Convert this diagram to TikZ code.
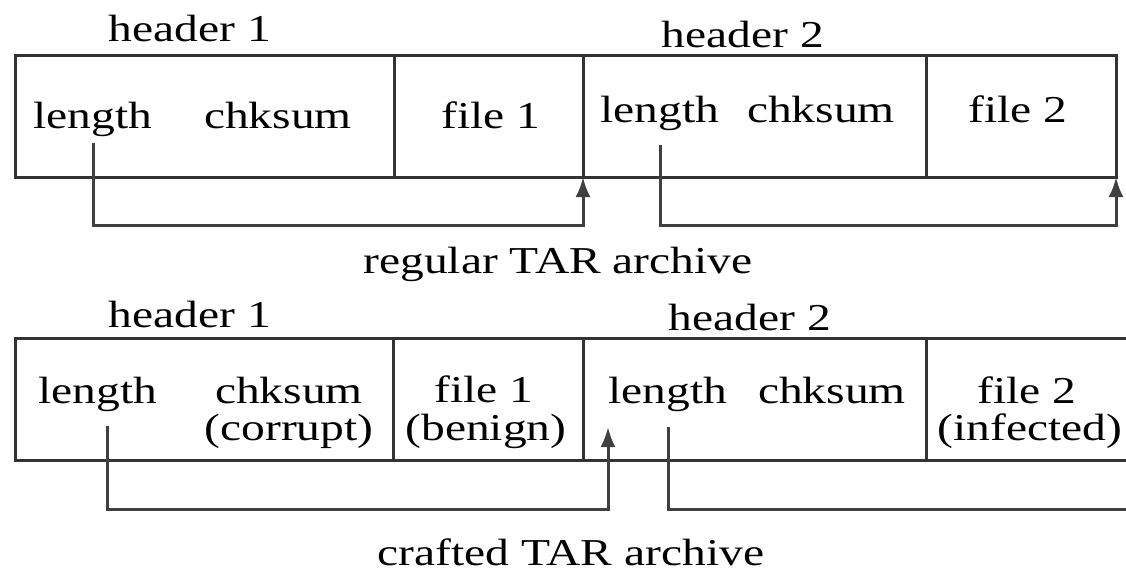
\documentclass[tikz,border=0pt]{standalone}
\usepackage{fontspec}
\setmainfont[FakeStretch=1.25]{Liberation Serif}
\usepackage{tikz}
\usetikzlibrary{calc}
\usetikzlibrary{arrows.meta}

\tikzset{
  cell/.style={line width=3pt, draw=black!80},
  lbl/.style={font=\fontsize{38}{42}\selectfont, inner sep=0pt, anchor=base},
  link/.style={line width=3pt, draw=black!75},
  linkarrow/.style={link, -{Latex[length=20pt,width=15pt]}}
}

\begin{document}
\begin{tikzpicture}[x=1pt, y=-1pt]
  \useasboundingbox (0,0) rectangle (1126,581);

  % Row heights
  \newcommand\topA{55}        % = regular top
  \newcommand\botA{177}       % = regular bottom
  \newcommand\topB{338}       % = crafted top
  \newcommand\botB{460}       % = crafted bottom

  % regular archive: cells
  \draw[cell] (15,\topA) rectangle (1116,\botA);
  \foreach \x in {394,583,926} {
    \draw[cell] (\x,\topA) -- (\x,\botA);
  }

  % crafted archive: cells (open to the right)
  \draw[cell] (1126,\topB) -- (15,\topB) -- (15,\botB) -- (1126,\botB);
  \foreach \x in {393,583,926} {
    \draw[cell] (\x,\topB) -- (\x,\botB);
  }

  % regular archive: labels
  \node[lbl] (hdrA1) at (190,41)  {header 1};
  \node[lbl] (hdrA2) at (743,47)  {header 2};
  \node[lbl] (lenA1) at (93,128)  {length};
  \node[lbl] (ckA1)  at (278,128) {chksum};
  \node[lbl] (fileA1) at (491,128) {file 1};
  \node[lbl] (lenA2) at (660,122) {length};
  \node[lbl] (ckA2)  at (821,122) {chksum};
  \node[lbl] (fileA2) at (1018,122) {file 2};
  \node[lbl] (nameA) at (558,273) {regular TAR archive};

  % crafted archive: labels
  \node[lbl] (hdrB1) at (190,327)  {header 1};
  \node[lbl] (hdrB2) at (750,330)  {header 2};
  \node[lbl] (lenB1) at (98,403)   {length};
  \node[lbl] (ckB1)  at (289,403)  {chksum};
  \node[lbl] (ckB1n) at (289,440)  {(corrupt)};
  \node[lbl] (fileB1) at (484,402) {file 1};
  \node[lbl] (fileB1n) at (486,440) {(benign)};
  \node[lbl] (lenB2) at (668,403)  {length};
  \node[lbl] (ckB2)  at (832,403)  {chksum};
  \node[lbl] (fileB2) at (1027,403) {file 2};
  \node[lbl] (fileB2n) at (1030,440) {(infected)};
  \node[lbl] (nameB) at (571,565)  {crafted TAR archive};

  % length pointers
  \coordinate (endA1) at (583,\botA);
  \coordinate (endA2) at (1116,\botA);
  \coordinate (endB1) at (608,427);
  \coordinate (endB2) at (1126,509);

  \draw[linkarrow] (lenA1.south |- 0,143) |- (0,225 -| endA1) -- (endA1);
  \draw[linkarrow] (lenA2.south |- 0,145) |- (0,225 -| endA2) -- (endA2);
  \draw[linkarrow] (107,426) |- (0,509 -| endB1) -- (endB1);
  \draw[link]      (668,427) |- (endB2);
\end{tikzpicture}
\end{document}
